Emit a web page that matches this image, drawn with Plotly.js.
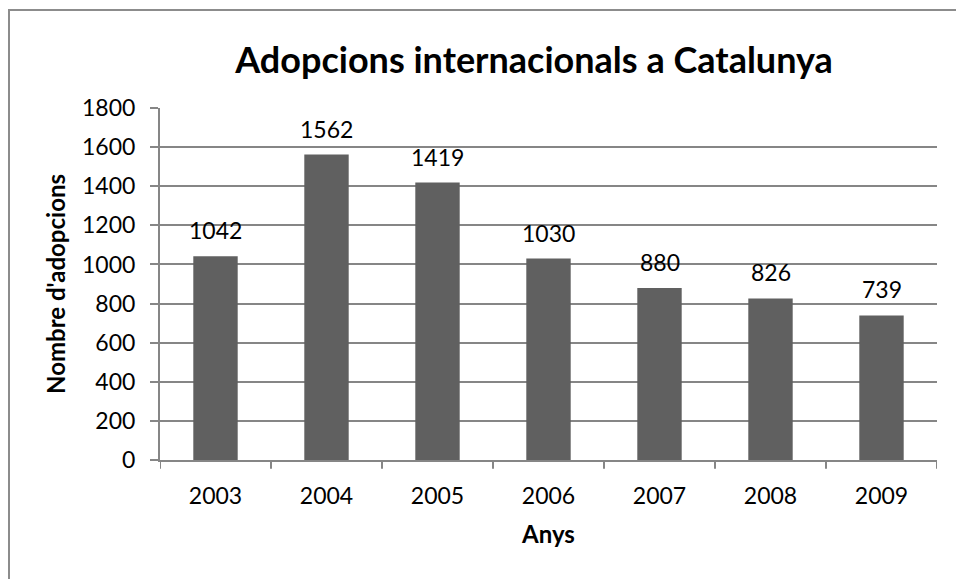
<!DOCTYPE html>
<html><head><meta charset="utf-8">
<script src="https://cdn.plot.ly/plotly-3.0.1.min.js"></script>
<style>
html,body{margin:0;padding:0;background:#fff;}
#frame{position:absolute;left:8px;top:9px;width:1000px;height:700px;border:2px solid #8c8c8c;box-sizing:border-box;}
#chart{position:absolute;left:0;top:0;width:956px;height:579px;}
</style></head>
<body>
<div id="frame"></div>
<div id="chart"></div>
<script>
const years = ['2003','2004','2005','2006','2007','2008','2009'];
const adoptions = [1042, 1562, 1419, 1030, 880, 826, 739];
const yTicks = [0,200,400,600,800,1000,1200,1400,1600,1800];

const FONT = 'Lato, "Open Sans", sans-serif';
const GRID = '#868686';
Plotly.newPlot('chart', [{
  type: 'bar',
  x: years,
  y: adoptions,
  marker: {color: '#606060'},
  text: adoptions.map(String),
  textposition: 'none',
  hoverinfo: 'none'
}], {
  width: 956, height: 579,
  paper_bgcolor: 'rgba(0,0,0,0)', plot_bgcolor: 'rgba(0,0,0,0)',
  margin: {l: 160, r: 19, t: 108, b: 119},
  bargap: 0.6,
  showlegend: false,
  title: {text: '<b>Adopcions internacionals a Catalunya</b>', xref: 'container', x: 0.5586, xanchor: 'center', y: 0.895, yanchor: 'middle',
          font: {family: FONT, size: 36, color: '#000'}},
  xaxis: {
    type: 'category',
    categoryorder: 'array', categoryarray: years,
    range: [-0.5, years.length - 0.5],
    showline: true, linecolor: GRID, linewidth: 2,
    ticks: 'outside', ticklen: 0, showgrid: false,
    ticklabelstandoff: 14,
    tickfont: {family: FONT, size: 23, color: '#000'},
    title: {text: '<b>Anys</b>', font: {family: FONT, size: 24, color: '#000'}, standoff: 19}
  },
  yaxis: {
    range: [0, 1800], tickvals: yTicks, ticktext: yTicks.map(String),
    showline: true, linecolor: GRID, linewidth: 2,
    ticks: 'outside', ticklen: 8, tickcolor: GRID, tickwidth: 2,
    ticklabelstandoff: 10,
    showgrid: true, gridcolor: GRID, gridwidth: 2,
    zeroline: false,
    tickfont: {family: FONT, size: 23, color: '#000'},
    title: {text: "<b>Nombre d'adopcions</b>", font: {family: FONT, size: 24, color: '#000'}, standoff: 10}
  },
  annotations: years.map((yr, i) => ({
    x: i, y: adoptions[i], xref: 'x', yref: 'y',
    text: String(adoptions[i]), showarrow: false,
    xanchor: 'center', yanchor: 'bottom', yshift: 10,
    font: {family: FONT, size: 23, color: '#000'}
  })),
  shapes: years.concat(['']).map((y, i) => ({
    type: 'line', xref: 'x', yref: 'paper', x0: i - 0.5, x1: i - 0.5, y0: 0, y1: -0.025,
    line: {color: GRID, width: 2}
  }))
}, {displayModeBar: false, staticPlot: true});
</script>
</body></html>
